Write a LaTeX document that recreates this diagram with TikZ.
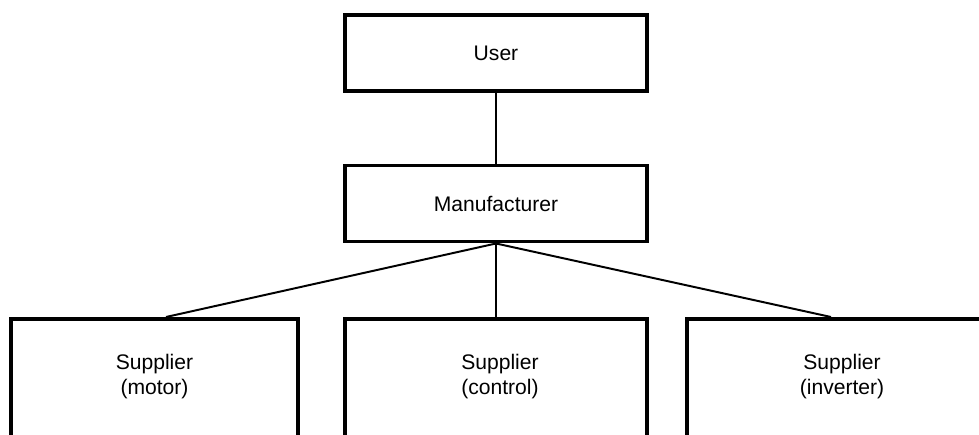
\documentclass[tikz,border=0pt]{standalone}
\usepackage{fontspec}
\setmainfont{Liberation Sans}
\usetikzlibrary{calc,positioning}
\tikzset{
  box/.style={draw, line width=2.8pt, minimum width=7.55cm, minimum height=1.9cm, inner sep=0pt, font=\fontsize{15}{17.8}\selectfont},
  supbox/.style={box, anchor=north, minimum height=5cm},
  tag/.style={align=center, inner sep=0pt, font=\fontsize{15}{17.8}\selectfont},
  link/.style={line width=1.4pt}
}
\begin{document}
\begin{tikzpicture}[x=0.025cm, y=-0.025cm]
        \useasboundingbox (0,0) rectangle (979,434);
        \clip (0,0) rectangle (979,434);
        %%%% top levels
        \node[box] (user) at (496,53) {User};
        \node[box] (mf) at (496,203.5) {Manufacturer};
        %%%% suppliers (cut off at the bottom)
        \node[supbox, minimum width=7.175cm] (smotor) at (154.5,317) {};
        \node[supbox] (sctrl) at (496,317) {};
        \node[supbox, minimum width=7.75cm] (sinv) at (842,317) {};
        \node[tag] (tmotor) at (154.5,377) {Supplier\\(motor)};
        \node[tag] (tctrl) at (500,377) {Supplier\\(control)};
        \node[tag] (tinv) at (842,377) {Supplier\\(inverter)};
        %%%%
        \draw[link] (user) -- (mf);
        \draw[link] (mf.south) -- ($(smotor.north)+(11.5,0)$);
        \draw[link] (mf.south) -- (sctrl.north);
        \draw[link] (mf.south) -- ($(sinv.north)+(-11,0)$);
    \end{tikzpicture}
\end{document}
